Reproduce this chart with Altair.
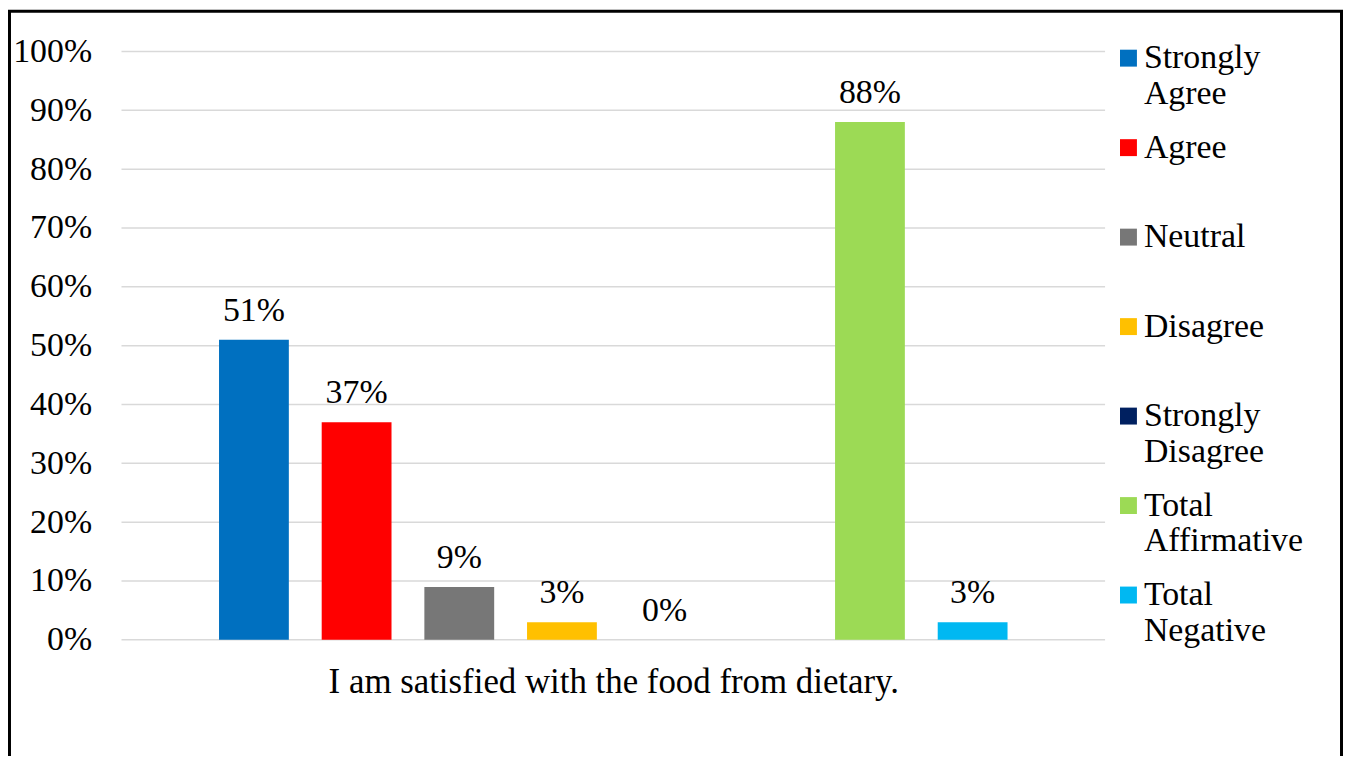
import altair as alt
import pandas as pd

# ---- data ----
slots = ["Strongly Agree", "Agree", "Neutral", "Disagree", "Strongly Disagree", " ",
         "Total Affirmative", "Total Negative"]
series = ["Strongly Agree", "Agree", "Neutral", "Disagree", "Strongly Disagree",
          "Total Affirmative", "Total Negative"]
values = [0.51, 0.37, 0.09, 0.03, 0.00, 0.88, 0.03]
legend_labels = ["Strongly\nAgree", "Agree", "Neutral", "Disagree", "Strongly\nDisagree",
                 "Total\nAffirmative", "Total\nNegative"]
colors = ["#0070C0", "#FF0000", "#777777", "#FFC000", "#002060", "#9CDA55", "#00B8F2"]
y_ticks = [0.0, 0.1, 0.2, 0.3, 0.4, 0.5, 0.6, 0.7, 0.8, 0.9, 1.0]
x_title = "I am satisfied with the food from dietary."

# ---- layout ----
W, H = 1341, 748
FONT = "Liberation Serif, serif"
FS = 34
X0, X1 = 114, 1102
Y0, Y1 = 633, 42

df = pd.DataFrame({"series": series, "value": values, "legend": legend_labels})
grid_df = pd.DataFrame({"tick": y_ticks})
frame_df = pd.DataFrame({"k": [0]})

xscale = alt.Scale(domain=slots, range=[X0, X1], paddingInner=0.32, paddingOuter=0.95)
yscale = alt.Scale(domain=[0, 1], range=[Y0, Y1], nice=False, zero=True)
cscale = alt.Scale(domain=series, range=colors)
lscale = alt.Scale(type="point", domain=series, range=[48.7, 588], padding=0)

x_axis = alt.Axis(title=x_title, labels=False, ticks=False, domain=False, grid=False,
                  offset=Y0 - H, titlePadding=42, titleBaseline="middle",
                  titleFont=FONT, titleFontSize=35, titleFontWeight="normal",
                  titleColor="black")
y_axis = alt.Axis(values=y_ticks, format=".0%", grid=False, ticks=False, domain=False,
                  labelPadding=30, offset=-X0, labelFont=FONT, labelFontSize=FS,
                  labelColor="black", title=None)

frame = alt.Chart(frame_df).mark_rect(fillOpacity=0, stroke="black", strokeWidth=3).encode(
    x=alt.value(1.5), x2=alt.value(W - 1.5), y=alt.value(1.5), y2=alt.value(H + 50))

grid = alt.Chart(grid_df).mark_rule(color="#d9d9d9", strokeWidth=1.5).encode(
    y=alt.Y("tick:Q", scale=yscale, axis=None),
    x=alt.value(X0), x2=alt.value(X1))

bars = alt.Chart(df).mark_bar().encode(
    x=alt.X("series:N", scale=xscale, axis=x_axis),
    y=alt.Y("value:Q", scale=yscale, axis=y_axis),
    color=alt.Color("series:N", scale=cscale, legend=None))

texts = alt.Chart(df).mark_text(dy=-29, baseline="middle", font=FONT, fontSize=FS,
                                color="black").encode(
    x=alt.X("series:N", scale=xscale, axis=x_axis),
    y=alt.Y("value:Q", scale=yscale, axis=None),
    text=alt.Text("value:Q", format=".0%"))

leg_sym = alt.Chart(df).mark_square(size=289, opacity=1).encode(
    y=alt.Y("series:N", scale=lscale, axis=None),
    x=alt.value(1125.5),
    color=alt.Color("series:N", scale=cscale, legend=None))

leg_txt = alt.Chart(df).mark_text(align="left", baseline="alphabetic", dy=10, lineBreak="\n",
                                  lineHeight=36, font=FONT, fontSize=FS, color="black").encode(
    y=alt.Y("series:N", scale=lscale, axis=None),
    x=alt.value(1141),
    text="legend:N")

chart = alt.layer(frame, grid, bars, texts, leg_sym, leg_txt).resolve_scale(
    y="independent"
).properties(
    width=W, height=H, padding=0, autosize=alt.AutoSizeParams(type="none"),
    background="white"
).configure_view(stroke=None)

chart.save("out.html", embed_options={"renderer": "svg", "actions": False})
